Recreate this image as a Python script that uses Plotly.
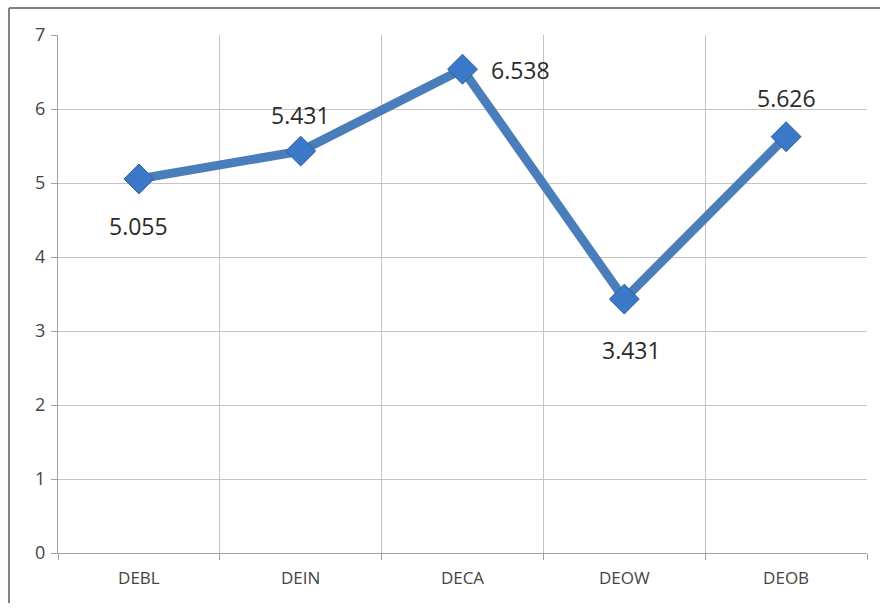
import plotly.graph_objects as go

categories = ["DEBL", "DEIN", "DECA", "DEOW", "DEOB"]
values = [5.055, 5.431, 6.538, 3.431, 5.626]
labels = ["5.055", "5.431", "6.538", "3.431", "5.626"]
label_xshift = [0, 0, 58, 7, 0]
label_yshift = [-47, 36, -1, -51, 39]
y_ticks = [0, 1, 2, 3, 4, 5, 6, 7]

fig = go.Figure()
fig.add_trace(go.Scatter(
    x=categories, y=values,
    mode="lines+markers",
    line=dict(color="#4A7EBB", width=9),
    marker=dict(symbol="diamond", size=23, color="#3C78C8",
                line=dict(color="#2F5F9E", width=1)),
    showlegend=False,
))

for c, v, t, dx, dy in zip(categories, values, labels, label_xshift, label_yshift):
    fig.add_annotation(x=c, y=v, text=t, showarrow=False,
                       xshift=dx, yshift=dy, xanchor="center", yanchor="middle",
                       font=dict(family="Open Sans, DejaVu Sans", size=23, color="#2b2b2b"))

fig.update_layout(
    width=880, height=608,
    margin=dict(l=58, r=13, t=35, b=55),
    paper_bgcolor="white", plot_bgcolor="white",
    xaxis=dict(
        type="category", tickson="boundaries",
        showgrid=True, gridcolor="#C4C4C4", gridwidth=1,
        showline=True, linecolor="#A0A0A0", linewidth=1, mirror=False,
        ticks="outside", ticklen=6, tickcolor="#A0A0A0",
        ticklabelstandoff=10,
        tickfont=dict(family="Open Sans, DejaVu Sans", size=17, color="#444"),
        range=[-0.5, 4.5],
    ),
    yaxis=dict(
        range=[0, 7], tickvals=y_ticks,
        showgrid=True, gridcolor="#C4C4C4", gridwidth=1,
        showline=True, linecolor="#A0A0A0", linewidth=1,
        ticks="outside", ticklen=6, tickcolor="#A0A0A0",
        ticklabelstandoff=2,
        tickfont=dict(family="Open Sans, DejaVu Sans", size=18, color="#444"),
        zeroline=False,
    ),
    shapes=[
        dict(type="line", xref="paper", yref="paper",
             x0=-0.0606, x1=1.05, y0=1.052, y1=1.052,
             line=dict(color="#808080", width=2)),
        dict(type="line", xref="paper", yref="paper",
             x0=-0.0606, x1=-0.0606, y0=-0.0965, y1=1.052,
             line=dict(color="#808080", width=2)),
    ],
)

fig.write_html("out.html")
